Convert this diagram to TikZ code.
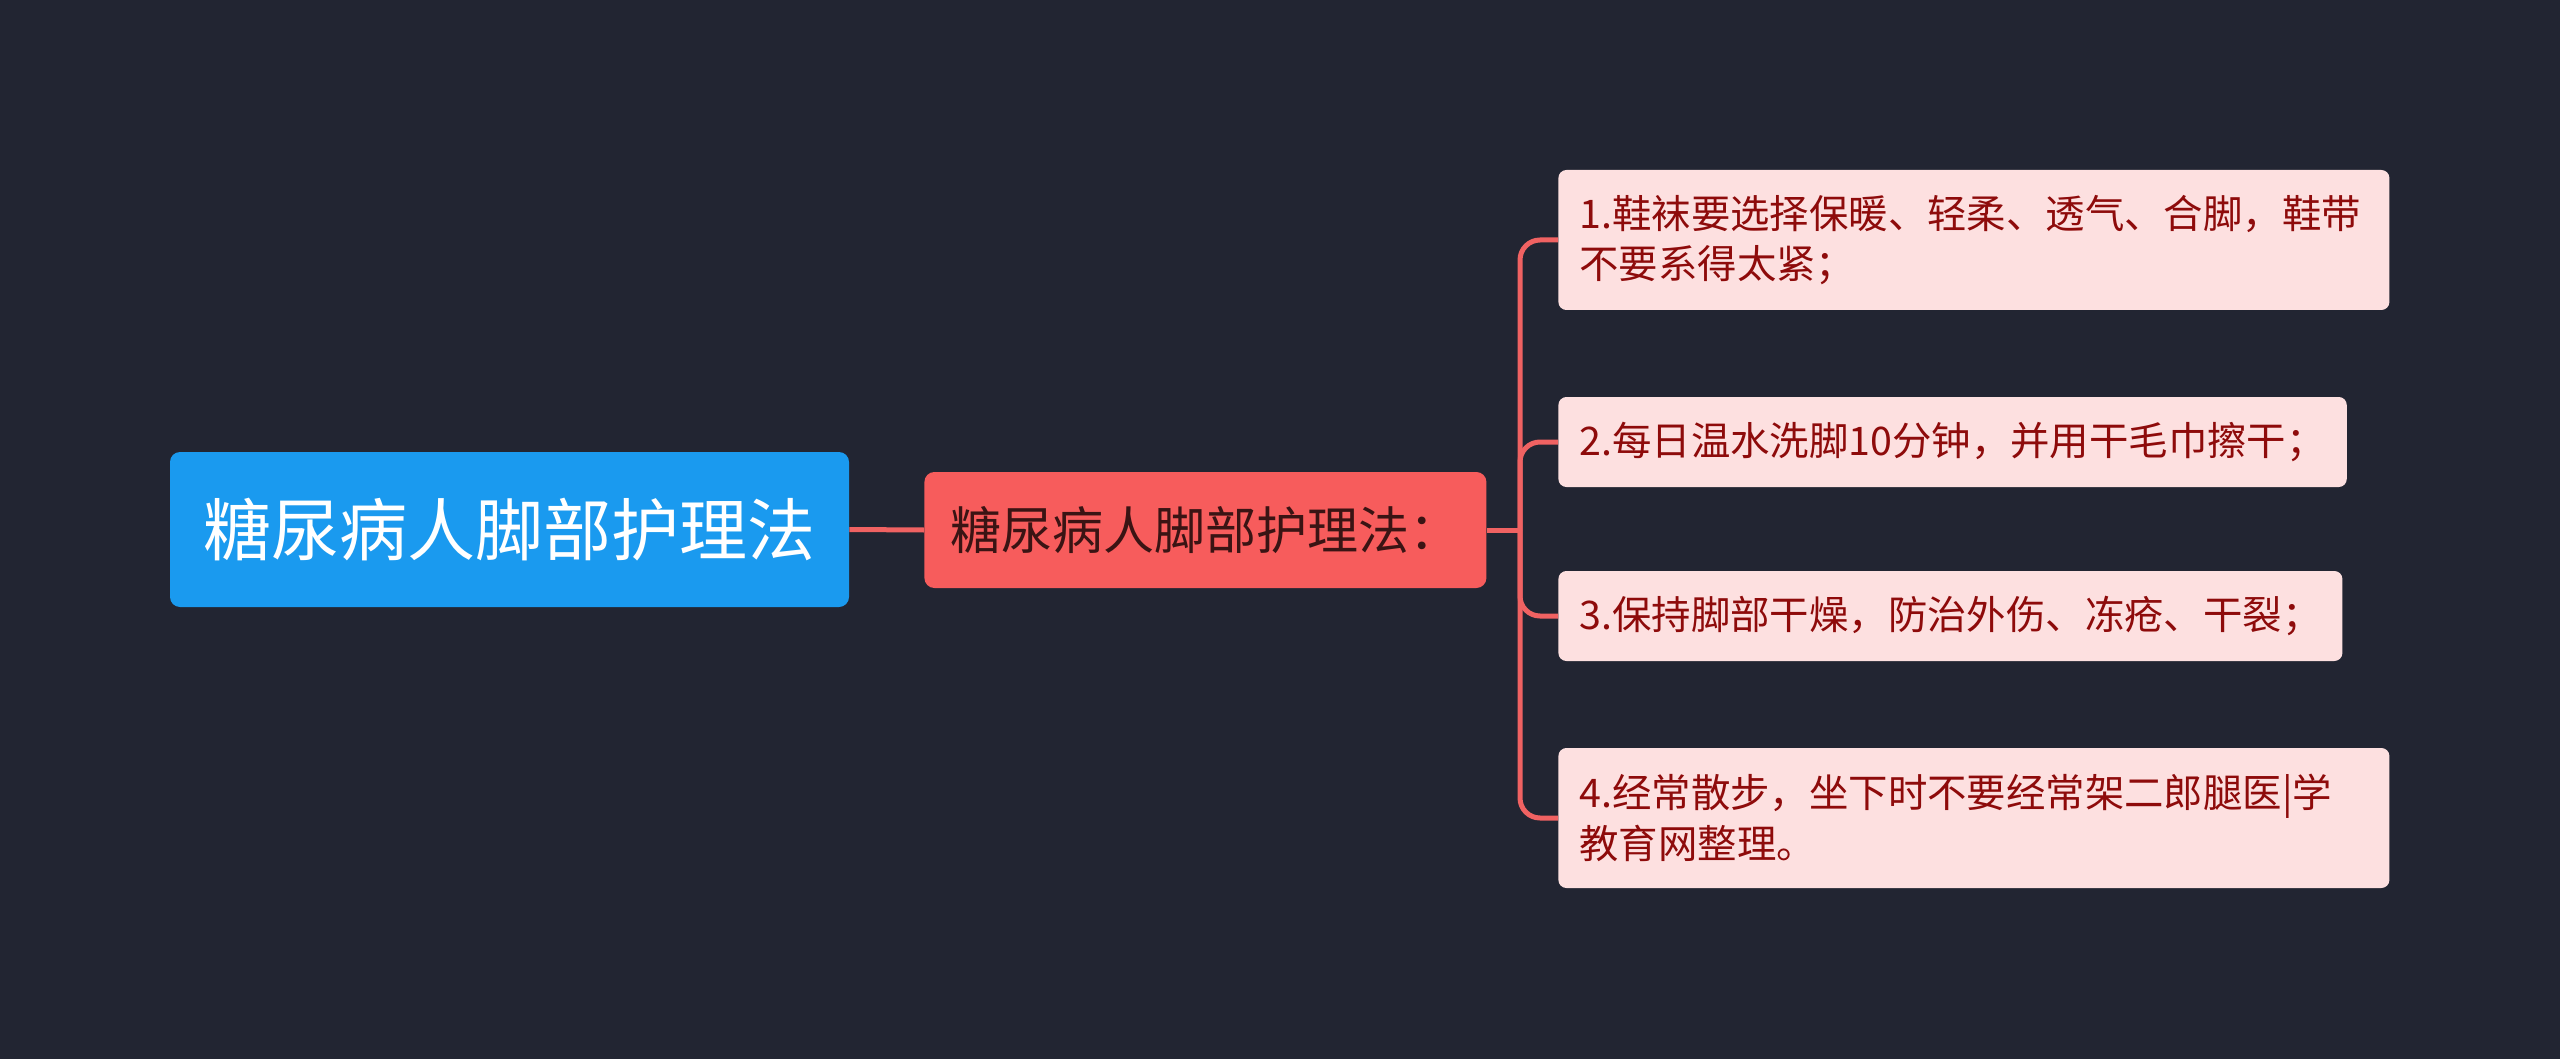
\documentclass[tikz,border=0pt]{standalone}
\usepackage{fontspec}
\usepackage{xcolor}
\usepackage{tikz}
\usetikzlibrary{positioning,calc}
\newfontfamily\cjk{Noto Sans CJK SC}

\definecolor{bgdark}{HTML}{222532}
\definecolor{rootblue}{HTML}{1A9AEF}
\definecolor{topicred}{HTML}{F75C5C}
\definecolor{topictext}{HTML}{3A1414}
\definecolor{leafpink}{HTML}{FDE0E0}
\definecolor{leafred}{HTML}{8E0B0B}
\definecolor{linkred}{HTML}{F06262}

\begin{document}
\begin{tikzpicture}[
    x=0.5pt, y=-0.5pt,
    root/.style={rectangle, fill=rootblue, rounded corners=5pt, minimum width=339.5pt, minimum height=77.5pt, text=white, font=\cjk\fontsize{34}{40}\selectfont},
    topic/.style={rectangle, fill=topicred, rounded corners=5pt, anchor=west, inner xsep=13pt, minimum height=58pt, text=topictext, font=\cjk\fontsize{25.5}{30}\selectfont},
    leaf/.style={rectangle, fill=leafpink, rounded corners=4pt, anchor=west, align=left, inner xsep=10.5pt, minimum height=45pt, text=leafred, font=\cjk\fontsize{19.7}{25.3}\selectfont},
    tall/.style={minimum height=70pt, text width=394.5pt},
    link/.style={draw=linkred, line width=2.5pt}
]

\fill[bgdark] (0,0) rectangle (2560,1059);
\useasboundingbox (0,0) rectangle (2560,1059);

\node[root] (main) at (509.5,529.5) {糖尿病人脚部护理法};
\node[topic] (care) at (924,530) {糖尿病人脚部护理法：};
\coordinate (hub) at (1520,530);

\node[leaf, tall] (tip1) at (1558,240) {1.鞋袜要选择保暖、轻柔、透气、合脚，鞋带\\不要系得太紧；};
\node[leaf] (tip2) at (1558,442) {2.每日温水洗脚10分钟，并用干毛巾擦干；};
\node[leaf] (tip3) at (1558,616) {3.保持脚部干燥，防治外伤、冻疮、干裂；};
\node[leaf, tall] (tip4) at (1558,818) {4.经常散步，坐下时不要经常架二郎腿医|学\\教育网整理。};

\draw[link] (main.east) -- (care.west);
\draw[link] (care.east) -- (hub);
\foreach \n in {1,...,4}
    \draw[link, rounded corners=10pt] (hub) |- (tip\n.west);

\end{tikzpicture}
\end{document}
